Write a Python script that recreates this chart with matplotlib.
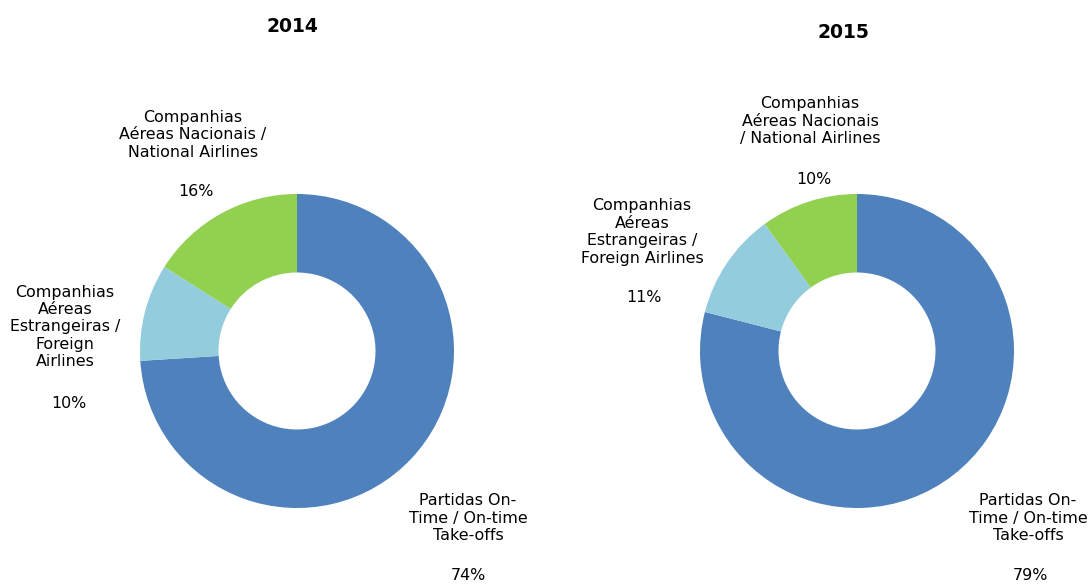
import matplotlib
matplotlib.use("Agg")
import matplotlib.pyplot as plt

years = ["2014", "2015"]
categories = ["Partidas On-Time / On-time Take-offs",
              "Companhias Aéreas Estrangeiras / Foreign Airlines",
              "Companhias Aéreas Nacionais / National Airlines"]
values_2014 = [74, 10, 16]
values_2015 = [79, 11, 10]
colors = ["#4F81BD", "#93CDDD", "#92D050"]

W, H = 1088, 584
fig = plt.figure(figsize=(W / 100, H / 100), dpi=100)
fig.patch.set_facecolor("white")

R = 157


def add_donut(cx, cy, vals):
    ax = fig.add_axes([(cx - R) / W, (H - cy - R) / H, 2 * R / W, 2 * R / H])
    ax.pie(vals, colors=colors, startangle=90, counterclock=False, radius=1,
           wedgeprops=dict(width=0.5, linewidth=0))
    ax.set_xlim(-1, 1)
    ax.set_ylim(-1, 1)
    ax.set_aspect("equal")
    ax.axis("off")


add_donut(297, 351, values_2014)
add_donut(857, 351, values_2015)


def txt(x, y, s, size=11.4, **kw):
    fig.text(x / W, 1 - y / H, s, ha="center", va="center", fontsize=size,
             color="#000000", linespacing=1.2, **kw)


# titles
txt(292, 27, years[0], size=13.5, fontweight="bold")
txt(843, 33, years[1], size=13.5, fontweight="bold")

# 2014 labels
txt(193, 135, "Companhias\nAéreas Nacionais /\nNational Airlines")
txt(196, 192, f"{values_2014[2]}%")
txt(65, 327, "Companhias\nAéreas\nEstrangeiras /\nForeign\nAirlines")
txt(69, 404, f"{values_2014[1]}%")
txt(468, 518, "Partidas On-\nTime / On-time\nTake-offs")
txt(468, 576, f"{values_2014[0]}%")

# 2015 labels
txt(810, 121, "Companhias\nAéreas Nacionais\n/ National Airlines")
txt(814, 180, f"{values_2015[2]}%")
txt(642, 232, "Companhias\nAéreas\nEstrangeiras /\nForeign Airlines")
txt(644, 298, f"{values_2015[1]}%")
txt(1028, 518, "Partidas On-\nTime / On-time\nTake-offs")
txt(1030, 576, f"{values_2015[0]}%")

fig.savefig("out.png", dpi=100)
